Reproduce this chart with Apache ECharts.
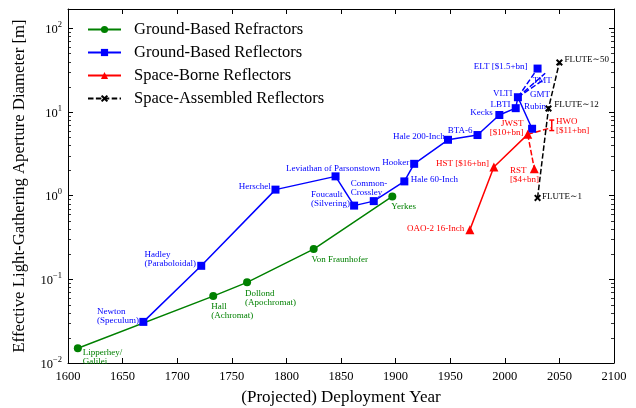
<!DOCTYPE html>
<html><head><meta charset="utf-8">
<script src="https://cdn.jsdelivr.net/npm/echarts@6.0.0/dist/echarts.min.js"></script>
<style>html,body{margin:0;padding:0;background:#fff}#c{width:636px;height:408px}</style>
</head><body><div id="c"></div>
<script>
// ---------------- data ----------------
const xTickYears = [1600,1650,1700,1750,1800,1850,1900,1950,2000,2050,2100];

const refractorNames = ['Lipperhey/\nGalilei','Hall\n(Achromat)','Dollond\n(Apochromat)','Von Fraunhofer','Yerkes'];
const refractorYears = [1609,1733,1764,1825,1897];
const refractorDiam  = [0.015,0.063,0.092,0.23,0.98];

const reflectorNames = ['Newton\n(Speculum)','Hadley\n(Paraboloidal)','Herschel','Leviathan of Parsonstown','Foucault\n(Silvering)','Common-\nCrossley','Hale 60-Inch','Hooker','Hale 200-Inch','BTA-6','Kecks','LBTI','VLTI','Rubin'];
const reflectorYears = [1669,1722,1790,1845,1862,1880,1908,1917,1948,1975,1995,2010,2012,2025];
const reflectorDiam  = [0.031,0.145,1.18,1.7,0.76,0.86,1.48,2.4,4.65,5.3,9.2,11.1,15,6.3];

const elNames = ['ELT [$1.5+bn]','TMT','GMT'];
const elYears = [2030,2037,2036];
const elDiam  = [33,29,24.5];

const spaceNames = ['OAO-2 16-Inch','HST [$16+bn]','JWST\n[$10+bn]'];
const spaceYears = [1968,1990,2021];
const spaceDiam  = [0.39,2.2,5.4];

const spaceFutureNames = ['RST\n[$4+bn]','HWO\n[$11+bn]'];
const spaceFutureYears = [2027,2043];
const spaceFutureDiam  = [2.1,6.5];
const hwoRange = [6,8];

const fluteNames = ['FLUTE∼1','FLUTE∼12','FLUTE∼50'];
const fluteYears = [2030,2040,2050];
const fluteDiam  = [0.94,11,39];

// ---------------- label layout (px offsets from marker centre) ----------------
const LAYOUT = {
  'Lipperhey/\nGalilei':[5,-0.5,'left','top'],
  'Hall\n(Achromat)':[-2,6,'left','top'],
  'Dollond\n(Apochromat)':[-2,6.7,'left','top'],
  'Von Fraunhofer':[-2.3,6.2,'left','top'],
  'Yerkes':[-1,5.5,'left','top'],
  'Newton\n(Speculum)':[-46.3,-15.2,'left','top'],
  'Hadley\n(Paraboloidal)':[-56.7,-15.5,'left','top'],
  'Herschel':[-4.7,-3,'right','middle'],
  'Leviathan of Parsonstown':[-2.5,-8,'center','middle'],
  'Foucault\n(Silvering)':[-43,-15.5,'left','top'],
  'Common-\nCrossley':[-23,-22.4,'left','top'],
  'Hale 60-Inch':[6.4,-1.7,'left','middle'],
  'Hooker':[-5,-1.6,'right','middle'],
  'Hale 200-Inch':[-3.3,-3.3,'right','middle'],
  'BTA-6':[-5,-4.3,'right','middle'],
  'Kecks':[-6.6,-2,'right','middle'],
  'LBTI':[-5.3,-3.4,'right','middle'],
  'VLTI':[-5.3,-3.4,'right','middle'],
  'Rubin':[-8,-22.6,'left','middle'],
  'ELT [$1.5+bn]':[-10,-2.3,'right','middle'],
  'TMT':[-2.9,7.3,'center','middle'],
  'GMT':[-4.1,15.4,'center','middle'],
  'OAO-2 16-Inch':[-5.5,-1.3,'right','middle'],
  'HST [$16+bn]':[-5,-3,'right','middle'],
  'JWST\n[$10+bn]':[-4.3,-6.5,'right','middle'],
  'RST\n[$4+bn]':[-24.3,-2.8,'left','top'],
  'HWO\n[$11+bn]':[4.2,-10.1,'left','top'],
  'FLUTE∼1':[4.4,-1.3,'left','middle'],
  'FLUTE∼12':[5.7,-4,'left','middle'],
  'FLUTE∼50':[5,-3.3,'left','middle']
};

const FONT = "'Liberation Serif', 'DejaVu Serif', serif";
const GREEN = '#008000', BLUE = '#0000ff', RED = '#ff0000', BLACK = '#000000';
const XSYM = 'path://M2,0L5,3L8,0L10,2L7,5L10,8L8,10L5,7L2,10L0,8L3,5L0,2Z';

function item(name, x, y, size, extra) {
  const o = Object.assign({name: name, value: [x, y]}, extra || {});
  const L = LAYOUT[name];
  if (L) {
    o.label = {show: true, formatter: function(){ return name; },
      position: [L[0] + size / 2, L[1] + size / 2], align: L[2], verticalAlign: L[3]};
  }
  return o;
}
function build(names, years, diams, size, extra) {
  return names.map(function(n, i){ return item(n, years[i], diams[i], size, extra); });
}
function labelStyle(color) {
  return {show: false, color: color, fontFamily: FONT, fontSize: 9, lineHeight: 9};
}

const refData = build(refractorNames, refractorYears, refractorDiam, 8);
const reflData = build(reflectorNames, reflectorYears, reflectorDiam, 8);
const vltiIdx = reflectorNames.indexOf('VLTI');
const vltiPt = {value: [reflectorYears[vltiIdx], reflectorDiam[vltiIdx]], symbol: 'none'};
const elItems = build(elNames, elYears, elDiam, 8);
elItems[1].symbolSize = 0; elItems[2].symbolSize = 0;
elItems[1].label.position = [LAYOUT['TMT'][0], LAYOUT['TMT'][1]];
elItems[2].label.position = [LAYOUT['GMT'][0], LAYOUT['GMT'][1]];

const spaceData = build(spaceNames, spaceYears, spaceDiam, 9);
const jwstPt = {value: [spaceYears[2], spaceDiam[2]], symbol: 'none'};
const sfItems = build(spaceFutureNames, spaceFutureYears, spaceFutureDiam, 9);
sfItems[1].symbolSize = 0;
sfItems[1].label.position = [LAYOUT['HWO\n[$11+bn]'][0], LAYOUT['HWO\n[$11+bn]'][1]];
const fluteData = build(fluteNames, fluteYears, fluteDiam, 7);

// minor log ticks (axis decoration)
const minorTickVals = [];
[-2,-1,0,1,2].forEach(function(e){ for (let m = 2; m <= 9; m++) { const v = m * Math.pow(10, e); if (v < 170) minorTickVals.push([1600, v]); } });

function baseLine(name, color, symbol, size, data, dashed) {
  return {
    type: 'line', name: name, data: data, symbol: symbol, symbolSize: size,
    showSymbol: true, showAllSymbol: true,
    lineStyle: {color: color, width: 1.5, type: dashed ? [5.5, 2.4] : 'solid'},
    itemStyle: {color: color},
    label: labelStyle(color), labelLayout: {hideOverlap: false},
    emphasis: {disabled: true}, z: 3
  };
}

const supRich = {
  b: {fontSize: 12.5, fontFamily: FONT, color: '#000', lineHeight: 16, verticalAlign: 'bottom'},
  s: {fontSize: 8.5, fontFamily: FONT, color: '#000', lineHeight: 16, verticalAlign: 'top', padding: [0,0,6,0]}
};

const axisX = function(pos, showLabel) {
  return {
    type: 'value', position: pos, min: 1600, max: 2100, interval: 50,
    axisLine: {show: true, onZero: false, lineStyle: {color: '#000', width: 1}},
    axisTick: {show: true, inside: true, length: 5, lineStyle: {color: '#000', width: 1}},
    axisLabel: {show: showLabel, color: '#000', fontFamily: FONT, fontSize: 12.5, margin: 7,
      formatter: function(v){ return String(v); }},
    splitLine: {show: false},
    name: showLabel ? '(Projected) Deployment Year' : '',
    nameLocation: 'middle', nameGap: 26,
    nameTextStyle: {fontFamily: FONT, fontSize: 17, color: '#000'}
  };
};
const axisY = function(pos, showLabel) {
  return {
    type: 'log', logBase: 10, position: pos, min: 0.01, max: 170,
    axisLine: {show: true, onZero: false, lineStyle: {color: '#000', width: 1}},
    axisTick: {show: true, inside: true, length: 5, lineStyle: {color: '#000', width: 1}},
    axisLabel: {show: showLabel, margin: 6, rich: supRich,
      formatter: function(v){
        const e = Math.round(Math.log10(v));
        if (Math.abs(v - Math.pow(10, e)) / v > 1e-6) return '';
        return '{b|10}{s|' + (e < 0 ? '\u2212' + (-e) : e) + '}';
      }},
    splitLine: {show: false},
    name: showLabel ? 'Effective Light-Gathering Aperture Diameter [m]' : '',
    nameLocation: 'middle', nameGap: 40,
    nameTextStyle: {fontFamily: FONT, fontSize: 16.8, color: '#000'}
  };
};

const option = {
  animation: false,
  backgroundColor: '#fff',
  grid: {left: 68, right: 22, top: 9, bottom: 45, containLabel: false, outerBoundsMode: 'none'},
  xAxis: [axisX('bottom', true), axisX('top', false)],
  yAxis: [axisY('left', true), axisY('right', false)],
  legend: {
    data: ['Ground-Based Refractors','Ground-Based Reflectors','Space-Borne Reflectors','Space-Assembled Reflectors'],
    orient: 'vertical', left: 87, top: 21, padding: 0, itemWidth: 33, itemHeight: 9, itemGap: 6,
    textStyle: {fontFamily: FONT, fontSize: 16.5, lineHeight: 16, color: '#000', padding: [0,0,0,8]},
    selectedMode: false
  },
  series: [
    baseLine('Ground-Based Refractors', GREEN, 'circle', 8, refData, false),
    baseLine('Ground-Based Reflectors', BLUE, 'rect', 8, reflData, false),
    baseLine('elt', BLUE, 'rect', 8, [vltiPt, elItems[0]], true),
    baseLine('tmt', BLUE, 'rect', 8, [vltiPt, elItems[1]], true),
    baseLine('gmt', BLUE, 'rect', 8, [vltiPt, elItems[2]], true),
    baseLine('Space-Borne Reflectors', RED, 'triangle', 9, spaceData, false),
    baseLine('rst', RED, 'triangle', 9, [jwstPt, sfItems[0]], true),
    baseLine('hwo', RED, 'triangle', 9, [jwstPt, sfItems[1]], true),
    baseLine('Space-Assembled Reflectors', BLACK, XSYM, 7, fluteData, true),
    {
      type: 'custom', name: 'hwoErr', silent: true, z: 4,
      data: [[spaceFutureYears[1], hwoRange[0], hwoRange[1]]],
      renderItem: function(params, api){
        const lo = api.coord([api.value(0), api.value(1)]);
        const hi = api.coord([api.value(0), api.value(2)]);
        const st = {stroke: RED, lineWidth: 1.5};
        return {type: 'group', children: [
          {type: 'line', shape: {x1: lo[0], y1: lo[1], x2: hi[0], y2: hi[1]}, style: st},
          {type: 'line', shape: {x1: lo[0]-2.5, y1: lo[1], x2: lo[0]+2.5, y2: lo[1]}, style: st},
          {type: 'line', shape: {x1: hi[0]-2.5, y1: hi[1], x2: hi[0]+2.5, y2: hi[1]}, style: st}
        ]};
      }
    },
    {
      type: 'custom', name: 'minorTicks', silent: true, z: 2,
      data: minorTickVals,
      renderItem: function(params, api){
        const v = api.value(1);
        const l = api.coord([1600, v]);
        const r = api.coord([2100, v]);
        const st = {stroke: '#000', lineWidth: 0.8};
        return {type: 'group', children: [
          {type: 'line', shape: {x1: l[0], y1: Math.round(l[1])+0.5, x2: l[0]+3, y2: Math.round(l[1])+0.5}, style: st},
          {type: 'line', shape: {x1: r[0]-3, y1: Math.round(r[1])+0.5, x2: r[0], y2: Math.round(r[1])+0.5}, style: st}
        ]};
      }
    }
  ]
};

const chart = echarts.init(document.getElementById('c'), null, {renderer: 'canvas'});
chart.setOption(option);
</script>
</body></html>
